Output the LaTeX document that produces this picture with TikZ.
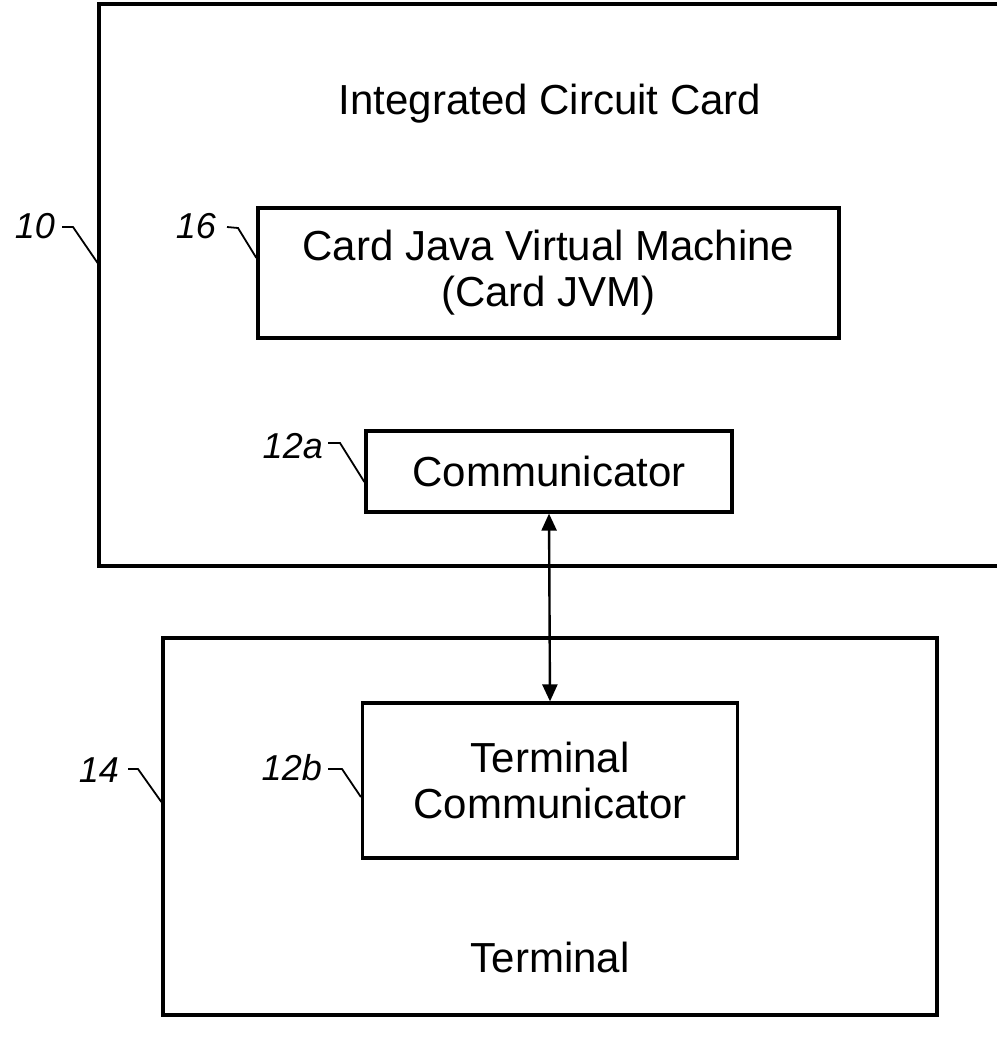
\documentclass[tikz,border=0pt]{standalone}
\usepackage{fontspec}
\setmainfont{Liberation Sans}
\usetikzlibrary{arrows.meta}
\tikzset{
  box/.style={draw, line width=3.2pt, inner sep=0pt, align=center,
    font=\fontsize{42}{46}\selectfont},
  bigtext/.style={anchor=base, inner sep=0pt, font=\fontsize{42}{46}\selectfont},
  reflabel/.style={anchor=base east, inner sep=0pt, font=\fontsize{36}{40}\selectfont\itshape},
  leader/.style={line width=1.8pt},
  link/.style={line width=2.4pt, {Triangle[length=17pt,width=15pt]}-{Triangle[length=17pt,width=15pt]}}
}
\begin{document}
\begin{tikzpicture}[x=1pt,y=-1pt]
\useasboundingbox (0,0) rectangle (997,1043);
% outer card box (right edge runs off the page)
\draw[line width=3.2pt] (997,4) -- (99,4) -- (99,566) -- (997,566);
\coordinate (card10) at (99,265);
\node[bigtext] (title) at (550,115) {Integrated Circuit Card};
% boxes
\node[box, minimum width=581pt, minimum height=130pt] (jvm) at (548.5,273)
  {Card Java Virtual Machine\\(Card JVM)};
\node[box, minimum width=366pt, minimum height=81pt] (comm) at (549,471.5) {Communicator};
\node[box, minimum width=774pt, minimum height=377pt] (term) at (550,826.5) {};
\node[box, minimum width=375pt, minimum height=155pt] (tcomm) at (550,780.5)
  {Terminal\\Communicator};
\node[bigtext] (termtext) at (550,972) {Terminal};
% link
\draw[link] (comm.south) -- (tcomm.north);
% reference labels
\node[reflabel] (l10) at (55,238) {10};
\node[reflabel] (l16) at (216,238) {16};
\node[reflabel] (l12a) at (323,458) {12a};
\node[reflabel] (l14) at (119,782) {14};
\node[reflabel] (l12b) at (322,780) {12b};
\draw[leader] (62,227) -- (73,227) -- (card10);
\draw[leader] (227,227) -- (238,228) -- (jvm.west |- 0,258);
\draw[leader] (328,443) -- (340,443) -- (comm.west |- 0,482);
\draw[leader] (128,769) -- (138,769) -- (term.west |- 0,802);
\draw[leader] (328,769) -- (342,769) -- (tcomm.west |- 0,797);
\end{tikzpicture}
\end{document}
